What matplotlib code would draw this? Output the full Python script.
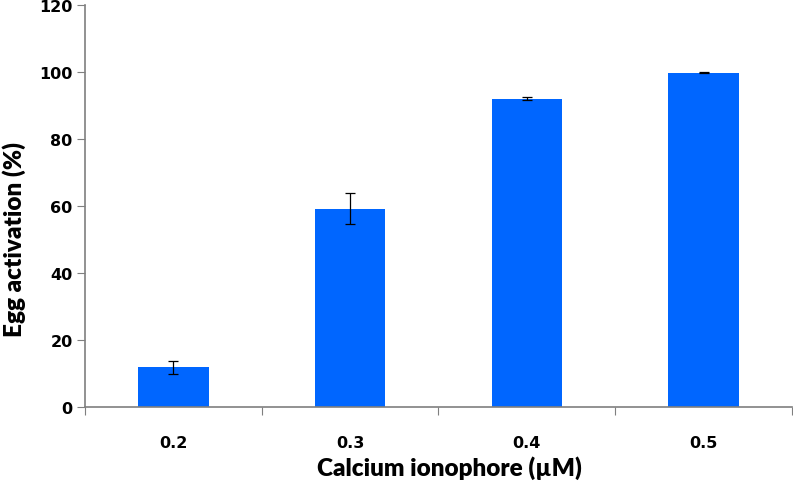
import numpy as np
import matplotlib
matplotlib.use("Agg")
import matplotlib.pyplot as plt

# data
doses = ["0.2", "0.3", "0.4", "0.5"]
activation = [11.8, 59.2, 92.0, 99.8]
errors = [2.0, 4.6, 0.5, 0.15]

bar_color = "#0066FF"
axis_color = "#7f7f7f"

fig = plt.figure(figsize=(7.93, 4.85), dpi=100)
ax = fig.add_axes([0.1072, 0.1588, 0.8915, 0.8288])

x = np.arange(len(doses)) + 0.5
ax.bar(x, activation, width=0.4, color=bar_color, zorder=2)
ax.errorbar(x, activation, yerr=errors, fmt="none", ecolor="black",
            elinewidth=0.9, capsize=3.5, capthick=0.9, zorder=3)

ax.set_xlim(0, len(doses))
ax.set_ylim(0, 120)
ax.set_yticks(np.arange(0, 121, 20))

# category boundaries as ticks, labels centred under bars
ax.set_xticks(np.arange(0, len(doses) + 1))
ax.set_xticklabels([])
ax.set_xticks(x, minor=True)
ax.set_xticklabels(doses, minor=True)
ax.tick_params(axis="x", which="minor", length=0, pad=20)
ax.tick_params(axis="x", which="major", length=6, color=axis_color, direction="out")
ax.tick_params(axis="y", length=6, color=axis_color, direction="out", pad=3)

for lab in ax.get_xticklabels(minor=True) + ax.get_yticklabels():
    lab.set_fontweight("bold")
    lab.set_fontsize(11.5)
    lab.set_family("DejaVu Sans")

for s in ["top", "right"]:
    ax.spines[s].set_visible(False)
for s in ["left", "bottom"]:
    ax.spines[s].set_color(axis_color)
    ax.spines[s].set_linewidth(1.2)

ax.set_xlabel("Calcium ionophore (\u00b5M)", fontsize=17.5, fontweight="heavy",
              family="Lato", labelpad=4)
ax.xaxis.label.set_x(0.515)
ax.set_ylabel("Egg activation (%)", fontsize=17.5, fontweight="heavy",
              family="Lato")
ax.yaxis.set_label_coords(-0.083, 0.42)

fig.savefig("out.png", dpi=100)
